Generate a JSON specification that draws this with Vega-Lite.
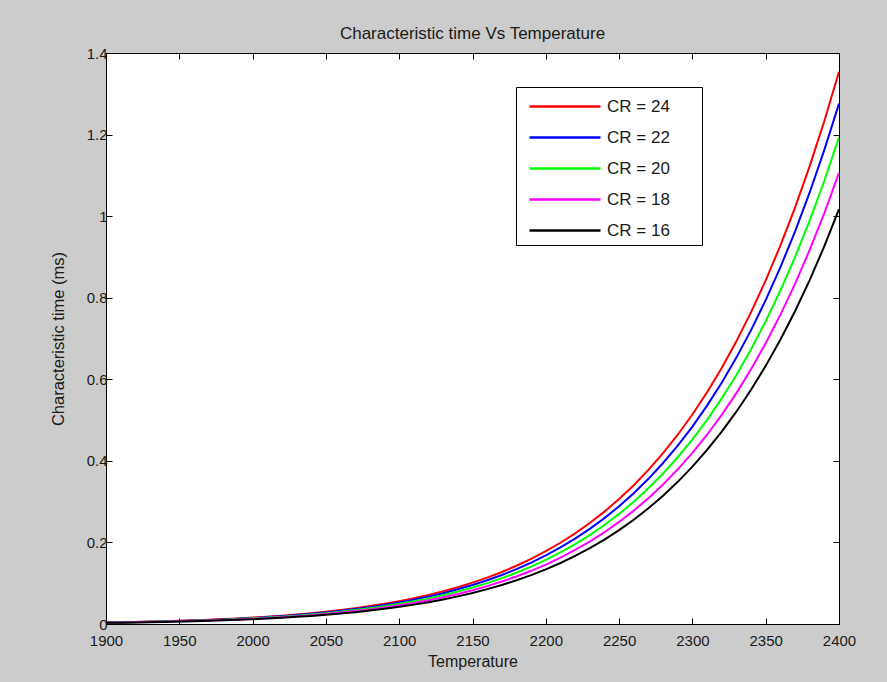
{
  "$schema": "https://vega.github.io/schema/vega-lite/v6.json",
  "width": 733,
  "height": 571,
  "autosize": "none",
  "padding": {"left": 106, "top": 53, "right": 48, "bottom": 58},
  "background": "#cccccc",
  "config": {
    "font": "Liberation Sans",
    "view": {"stroke": "#000000", "strokeWidth": 1, "fill": "#ffffff"},
    "axis": {
      "domain": false,
      "grid": false,
      "tickColor": "#000000",
      "tickSize": -6,
      "tickWidth": 1,
      "labelFlush": false,
      "labelColor": "#1a1a1a",
      "labelFontSize": 15,
      "labelFont": "Liberation Sans",
      "titleFont": "Liberation Sans",
      "titleFontSize": 16,
      "titleFontWeight": "normal",
      "titleColor": "#1a1a1a"
    }
  },
  "title": {
    "text": "Characteristic time Vs Temperature",
    "font": "Liberation Sans",
    "fontSize": 17,
    "fontWeight": "normal",
    "color": "#1a1a1a",
    "offset": 3
  },
  "datasets": {
    "d": [
      {"T": 1900, "CR = 24": 0.003837, "CR = 22": 0.003616, "CR = 20": 0.003381, "CR = 18": 0.003134, "CR = 16": 0.002882},
      {"T": 1910, "CR = 24": 0.004447, "CR = 22": 0.00419, "CR = 20": 0.003918, "CR = 18": 0.003632, "CR = 16": 0.00334},
      {"T": 1920, "CR = 24": 0.005144, "CR = 22": 0.004848, "CR = 20": 0.004532, "CR = 18": 0.004202, "CR = 16": 0.003864},
      {"T": 1930, "CR = 24": 0.005944, "CR = 22": 0.005602, "CR = 20": 0.005237, "CR = 18": 0.004855, "CR = 16": 0.004465},
      {"T": 1940, "CR = 24": 0.006857, "CR = 22": 0.006462, "CR = 20": 0.006041, "CR = 18": 0.005601, "CR = 16": 0.00515},
      {"T": 1950, "CR = 24": 0.007898, "CR = 22": 0.007443, "CR = 20": 0.006959, "CR = 18": 0.006451, "CR = 16": 0.005932},
      {"T": 1960, "CR = 24": 0.009084, "CR = 22": 0.008561, "CR = 20": 0.008004, "CR = 18": 0.00742, "CR = 16": 0.006823},
      {"T": 1970, "CR = 24": 0.010434, "CR = 22": 0.009833, "CR = 20": 0.009193, "CR = 18": 0.008523, "CR = 16": 0.007837},
      {"T": 1980, "CR = 24": 0.011968, "CR = 22": 0.011279, "CR = 20": 0.010545, "CR = 18": 0.009776, "CR = 16": 0.008989},
      {"T": 1990, "CR = 24": 0.013709, "CR = 22": 0.01292, "CR = 20": 0.012079, "CR = 18": 0.011198, "CR = 16": 0.010297},
      {"T": 2000, "CR = 24": 0.015682, "CR = 22": 0.014779, "CR = 20": 0.013817, "CR = 18": 0.01281, "CR = 16": 0.011779},
      {"T": 2010, "CR = 24": 0.017913, "CR = 22": 0.016881, "CR = 20": 0.015783, "CR = 18": 0.014632, "CR = 16": 0.013455},
      {"T": 2020, "CR = 24": 0.020437, "CR = 22": 0.01926, "CR = 20": 0.018007, "CR = 18": 0.016694, "CR = 16": 0.015351},
      {"T": 2030, "CR = 24": 0.023285, "CR = 22": 0.021943, "CR = 20": 0.020516, "CR = 18": 0.01902, "CR = 16": 0.017489},
      {"T": 2040, "CR = 24": 0.026496, "CR = 22": 0.02497, "CR = 20": 0.023346, "CR = 18": 0.021643, "CR = 16": 0.019902},
      {"T": 2050, "CR = 24": 0.030113, "CR = 22": 0.028378, "CR = 20": 0.026532, "CR = 18": 0.024597, "CR = 16": 0.022618},
      {"T": 2060, "CR = 24": 0.034179, "CR = 22": 0.03221, "CR = 20": 0.030115, "CR = 18": 0.027919, "CR = 16": 0.025672},
      {"T": 2070, "CR = 24": 0.038747, "CR = 22": 0.036515, "CR = 20": 0.03414, "CR = 18": 0.03165, "CR = 16": 0.029103},
      {"T": 2080, "CR = 24": 0.043875, "CR = 22": 0.041348, "CR = 20": 0.038658, "CR = 18": 0.035839, "CR = 16": 0.032955},
      {"T": 2090, "CR = 24": 0.049619, "CR = 22": 0.04676, "CR = 20": 0.043719, "CR = 18": 0.04053, "CR = 16": 0.037269},
      {"T": 2100, "CR = 24": 0.05605, "CR = 22": 0.05282, "CR = 20": 0.04939, "CR = 18": 0.04579, "CR = 16": 0.0421},
      {"T": 2110, "CR = 24": 0.063247, "CR = 22": 0.059603, "CR = 20": 0.055726, "CR = 18": 0.051662, "CR = 16": 0.047505},
      {"T": 2120, "CR = 24": 0.071281, "CR = 22": 0.067175, "CR = 20": 0.062805, "CR = 18": 0.058225, "CR = 16": 0.05354},
      {"T": 2130, "CR = 24": 0.080248, "CR = 22": 0.075625, "CR = 20": 0.070706, "CR = 18": 0.065549, "CR = 16": 0.060275},
      {"T": 2140, "CR = 24": 0.09024, "CR = 22": 0.085042, "CR = 20": 0.07951, "CR = 18": 0.073712, "CR = 16": 0.06778},
      {"T": 2150, "CR = 24": 0.10137, "CR = 22": 0.09553, "CR = 20": 0.08932, "CR = 18": 0.0828, "CR = 16": 0.07614},
      {"T": 2160, "CR = 24": 0.11374, "CR = 22": 0.10719, "CR = 20": 0.10022, "CR = 18": 0.09291, "CR = 16": 0.08543},
      {"T": 2170, "CR = 24": 0.1275, "CR = 22": 0.12016, "CR = 20": 0.11234, "CR = 18": 0.10415, "CR = 16": 0.09577},
      {"T": 2180, "CR = 24": 0.14277, "CR = 22": 0.13454, "CR = 20": 0.12579, "CR = 18": 0.11662, "CR = 16": 0.10723},
      {"T": 2190, "CR = 24": 0.15969, "CR = 22": 0.15049, "CR = 20": 0.1407, "CR = 18": 0.13044, "CR = 16": 0.11994},
      {"T": 2200, "CR = 24": 0.17844, "CR = 22": 0.16816, "CR = 20": 0.15723, "CR = 18": 0.14576, "CR = 16": 0.13403},
      {"T": 2210, "CR = 24": 0.19921, "CR = 22": 0.18774, "CR = 20": 0.17553, "CR = 18": 0.16273, "CR = 16": 0.14963},
      {"T": 2220, "CR = 24": 0.22215, "CR = 22": 0.20935, "CR = 20": 0.19574, "CR = 18": 0.18146, "CR = 16": 0.16686},
      {"T": 2230, "CR = 24": 0.24751, "CR = 22": 0.23325, "CR = 20": 0.21808, "CR = 18": 0.20218, "CR = 16": 0.18591},
      {"T": 2240, "CR = 24": 0.2755, "CR = 22": 0.25963, "CR = 20": 0.24274, "CR = 18": 0.22504, "CR = 16": 0.20693},
      {"T": 2250, "CR = 24": 0.30634, "CR = 22": 0.2887, "CR = 20": 0.26992, "CR = 18": 0.25023, "CR = 16": 0.2301},
      {"T": 2260, "CR = 24": 0.34033, "CR = 22": 0.32072, "CR = 20": 0.29986, "CR = 18": 0.27799, "CR = 16": 0.25562},
      {"T": 2270, "CR = 24": 0.37774, "CR = 22": 0.35598, "CR = 20": 0.33282, "CR = 18": 0.30855, "CR = 16": 0.28372},
      {"T": 2280, "CR = 24": 0.41887, "CR = 22": 0.39474, "CR = 20": 0.36907, "CR = 18": 0.34215, "CR = 16": 0.31462},
      {"T": 2290, "CR = 24": 0.46407, "CR = 22": 0.43734, "CR = 20": 0.40889, "CR = 18": 0.37907, "CR = 16": 0.34857},
      {"T": 2300, "CR = 24": 0.51369, "CR = 22": 0.4841, "CR = 20": 0.45261, "CR = 18": 0.41961, "CR = 16": 0.38584},
      {"T": 2310, "CR = 24": 0.56811, "CR = 22": 0.53538, "CR = 20": 0.50056, "CR = 18": 0.46406, "CR = 16": 0.42671},
      {"T": 2320, "CR = 24": 0.62775, "CR = 22": 0.59159, "CR = 20": 0.55311, "CR = 18": 0.51277, "CR = 16": 0.47151},
      {"T": 2330, "CR = 24": 0.69307, "CR = 22": 0.65315, "CR = 20": 0.61066, "CR = 18": 0.56613, "CR = 16": 0.52057},
      {"T": 2340, "CR = 24": 0.76451, "CR = 22": 0.72047, "CR = 20": 0.6736, "CR = 18": 0.62448, "CR = 16": 0.57423},
      {"T": 2350, "CR = 24": 0.84262, "CR = 22": 0.79408, "CR = 20": 0.74243, "CR = 18": 0.68829, "CR = 16": 0.6329},
      {"T": 2360, "CR = 24": 0.92796, "CR = 22": 0.87451, "CR = 20": 0.81762, "CR = 18": 0.758, "CR = 16": 0.697},
      {"T": 2370, "CR = 24": 1.02111, "CR = 22": 0.96228, "CR = 20": 0.89969, "CR = 18": 0.83408, "CR = 16": 0.76696},
      {"T": 2380, "CR = 24": 1.12271, "CR = 22": 1.05803, "CR = 20": 0.98921, "CR = 18": 0.91707, "CR = 16": 0.84328},
      {"T": 2390, "CR = 24": 1.23343, "CR = 22": 1.16237, "CR = 20": 1.08676, "CR = 18": 1.00751, "CR = 16": 0.92644},
      {"T": 2400, "CR = 24": 1.354, "CR = 22": 1.276, "CR = 20": 1.193, "CR = 18": 1.106, "CR = 16": 1.017}
    ]
  },
  "data": {"name": "d"},
  "transform": [
    {"fold": ["CR = 24", "CR = 22", "CR = 20", "CR = 18", "CR = 16"], "as": ["CR", "tau"]}
  ],
  "layer": [
    {
      "mark": {"type": "line", "strokeWidth": 2, "clip": true},
      "encoding": {
        "x": {
          "field": "T",
          "type": "quantitative",
          "scale": {"domain": [1900, 2400], "nice": false, "zero": false},
          "axis": {
            "orient": "bottom",
            "title": "Temperature",
            "values": [1900, 1950, 2000, 2050, 2100, 2150, 2200, 2250, 2300, 2350, 2400],
            "format": "d",
            "labelPadding": 15,
            "titlePadding": 5
          }
        },
        "y": {
          "field": "tau",
          "type": "quantitative",
          "scale": {"domain": [0, 1.4], "nice": false},
          "axis": {
            "orient": "left",
            "title": "Characteristic time (ms)",
            "titleFontSize": 16.5,
            "values": [0, 0.2, 0.4, 0.6, 0.8, 1, 1.2, 1.4],
            "format": "~g",
            "labelPadding": 5,
            "titlePadding": 20
          }
        },
        "color": {
          "field": "CR",
          "type": "nominal",
          "sort": ["CR = 24", "CR = 22", "CR = 20", "CR = 18", "CR = 16"],
          "scale": {
            "domain": ["CR = 24", "CR = 22", "CR = 20", "CR = 18", "CR = 16"],
            "range": ["#ff0000", "#0000ff", "#00ff00", "#ff00ff", "#000000"]
          },
          "legend": {
            "orient": "none",
            "legendX": 410,
            "legendY": 34,
            "title": null,
            "symbolType": "M-0.5,0H5.417M12.9,0",
            "symbolSize": 576,
            "symbolStrokeWidth": 2.5,
            "symbolFillColor": "transparent",
            "labelFontSize": 17,
            "labelFont": "Liberation Sans",
            "labelColor": "#1a1a1a",
            "labelOffset": 58,
            "rowPadding": 9,
            "strokeColor": "#000000",
            "fillColor": "#ffffff",
            "padding": 6
          }
        }
      }
    },
    {
      "mark": {"type": "point", "opacity": 0},
      "encoding": {
        "x": {
          "field": "T",
          "type": "quantitative",
          "axis": {"orient": "top", "title": null, "labels": false,
                   "values": [1900, 1950, 2000, 2050, 2100, 2150, 2200, 2250, 2300, 2350, 2400]}
        },
        "y": {
          "field": "tau",
          "type": "quantitative",
          "axis": {"orient": "right", "title": null, "labels": false,
                   "values": [0, 0.2, 0.4, 0.6, 0.8, 1, 1.2, 1.4]}
        }
      }
    }
  ],
  "resolve": {"axis": {"x": "independent", "y": "independent"}}
}
